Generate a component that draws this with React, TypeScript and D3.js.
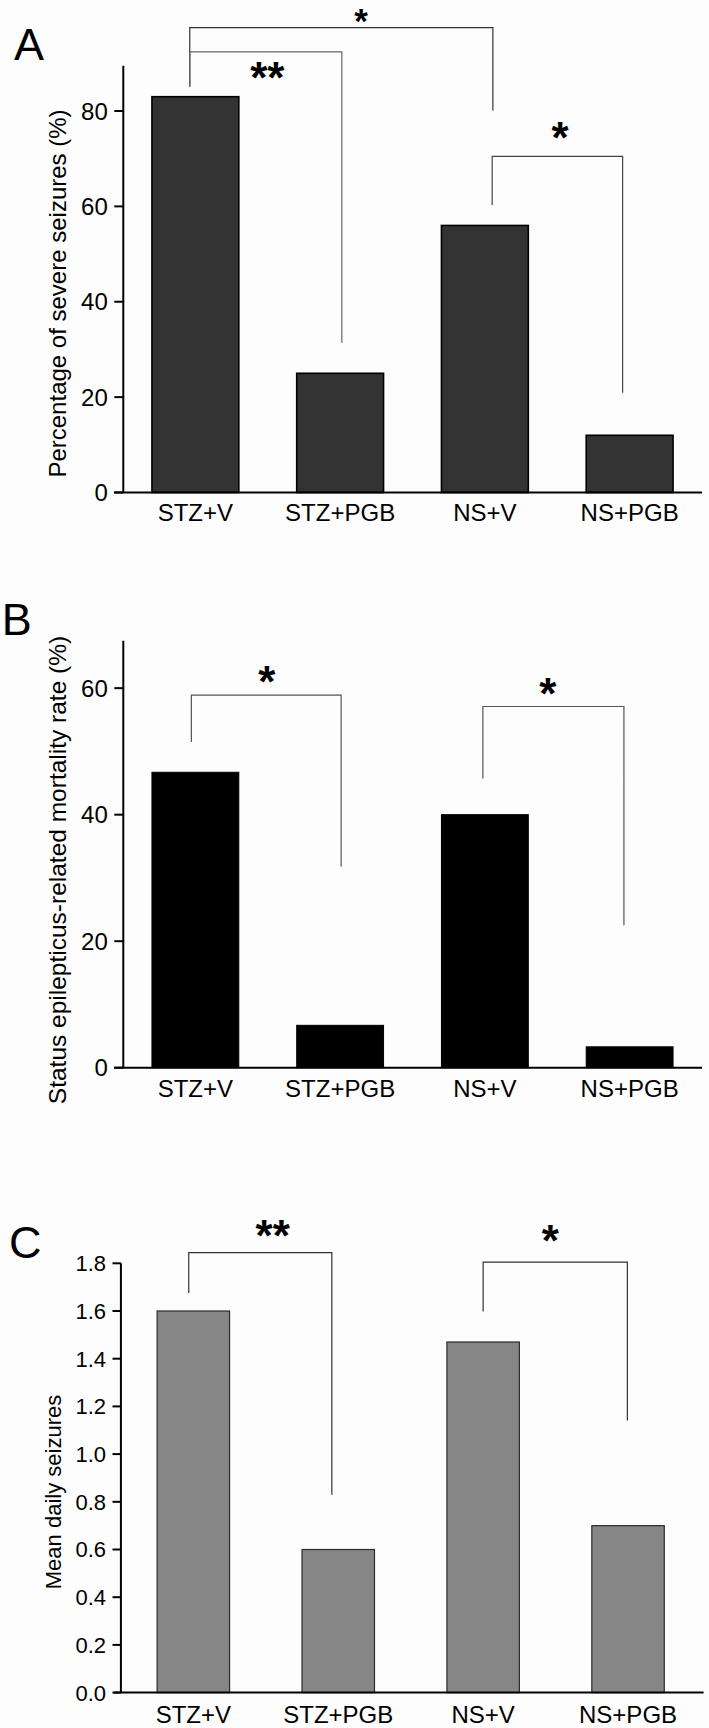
import React from "react";
import * as d3 from "d3";

// ---------- data ----------
const categories = ["STZ+V", "STZ+PGB", "NS+V", "NS+PGB"];
const severePct = [83, 25, 56, 12];
const mortalityPct = [46.7, 6.7, 40, 3.3];
const meanDaily = [1.6, 0.6, 1.47, 0.7];

const ticksA = [0, 20, 40, 60, 80];
const ticksB = [0, 20, 40, 60];
const ticksC = [0, 0.2, 0.4, 0.6, 0.8, 1.0, 1.2, 1.4, 1.6, 1.8];

const yMaxA = 89.5;
const yMaxB = 67.5;
const yMaxC = 1.8;

// significance brackets (values in data units)
const bracketsA = [
  { from: "STZ+V", to: "NS+V", level: 97.5, fromEnd: 85.1, toEnd: 80.1, mark: "*", markY: 99.6 },
  { from: "STZ+V", to: "STZ+PGB", level: 92.4, fromEnd: 85.1, toEnd: 31.4, mark: "**", markY: 88 },
  { from: "NS+V", to: "NS+PGB", level: 70.5, fromEnd: 60.3, toEnd: 20.9, mark: "*", markY: 75.4 },
];
const bracketsB = [
  { from: "STZ+V", to: "STZ+PGB", level: 58.9, fromEnd: 51.5, toEnd: 31.8, mark: "*", markY: 61.7 },
  { from: "NS+V", to: "NS+PGB", level: 57.1, fromEnd: 45.7, toEnd: 22.5, mark: "*", markY: 59.9 },
];
const bracketsC = [
  { from: "STZ+V", to: "STZ+PGB", level: 1.845, fromEnd: 1.675, toEnd: 0.83, mark: "**", markY: 1.935 },
  { from: "NS+V", to: "NS+PGB", level: 1.805, fromEnd: 1.598, toEnd: 1.141, mark: "*", markY: 1.912 },
];

// ---------- layout (positions / styles) ----------
const FONT = "'Liberation Sans', Arial, Helvetica, sans-serif";

const layoutA = {
  letter: "A", letterX: 14, letterY: 60,
  x0: 123, x1: 702, axisX: 123.3, xAxisStart: 114, xAxisEnd: 702,
  base: 492.5, top: 65.7, padInner: 0.4, padOuter: 0.2,
  tickFont: 24, tickLen: 9, xLabelDy: 28.2,
  yLabel: "Percentage of severe seizures (%)", yLabelX: 65.7, yLabelY: 293.5, yLabelFont: 24,
  fill: "#333333", stroke: "#000", strokeW: 1.6,
  bracketDx: [[-5.6, 8], [-5.6, 1.7], [7.3, -7]],
  markFrac: [0.565, 0.51, 0.52],
  markSize: [35, 44, 44],
  bracketColor: ["#333", "#666", "#444"],
  fmt: (d: number) => String(d),
};
const layoutB = {
  letter: "B", letterX: 1.7, letterY: 635,
  x0: 123, x1: 702, axisX: 123.3, xAxisStart: 114, xAxisEnd: 702,
  base: 1067.7, top: 640.7, padInner: 0.4, padOuter: 0.2,
  tickFont: 24, tickLen: 9, xLabelDy: 29,
  yLabel: "Status epilepticus-related mortality rate (%)", yLabelX: 65.7, yLabelY: 870, yLabelFont: 24.5,
  fill: "#000000", stroke: "#000", strokeW: 1,
  bracketDx: [[-4, 1], [-2, -5.7]],
  markFrac: [0.504, 0.46],
  markSize: [44, 44],
  bracketColor: ["#555", "#555"],
  fmt: (d: number) => String(d),
};
const layoutC = {
  letter: "C", letterX: 9, letterY: 1257.5,
  x0: 120.9, x1: 700.5, axisX: 120.9, xAxisStart: 113.6, xAxisEnd: 703.6,
  base: 1692.6, top: 1263.3, padInner: 0.5, padOuter: 0.25,
  tickFont: 22, tickLen: 8.4, xLabelDy: 30,
  yLabel: "Mean daily seizures", yLabelX: 61, yLabelY: 1492, yLabelFont: 22,
  fill: "#868686", stroke: "#2a2a2a", strokeW: 1.2,
  bracketDx: [[-4.6, -6.4], [0, -0.7]],
  markFrac: [0.587, 0.465],
  markSize: [44, 44],
  bracketColor: ["#333", "#333"],
  fmt: d3.format(".1f"),
};

type Bracket = { from: string; to: string; level: number; fromEnd: number; toEnd: number; mark: string; markY: number };

function Panel({ L, values, ticks, yMax, brackets }: { L: any; values: number[]; ticks: number[]; yMax: number; brackets: Bracket[] }) {
  const x = d3.scaleBand<string>().domain(categories).range([L.x0, L.x1]).paddingInner(L.padInner).paddingOuter(L.padOuter);
  const y = d3.scaleLinear().domain([0, yMax]).range([L.base, L.top]);
  const cx = (c: string) => (x(c) as number) + x.bandwidth() / 2;

  return (
    <g>
      <text x={L.letterX} y={L.letterY} fontSize={45} fontFamily={FONT} fill="#000">{L.letter}</text>
      {/* bars */}
      {categories.map((c, i) => (
        <rect key={c} x={x(c)} y={y(values[i])} width={x.bandwidth()} height={y(0) - y(values[i])}
          fill={L.fill} stroke={L.stroke} strokeWidth={L.strokeW} />
      ))}
      {/* y axis */}
      <line x1={L.axisX} x2={L.axisX} y1={y(0)} y2={y(yMax)} stroke="#000" strokeWidth={2} />
      {ticks.map((t) => (
        <g key={t}>
          <line x1={L.axisX - L.tickLen} x2={L.axisX} y1={y(t)} y2={y(t)} stroke="#000" strokeWidth={2} />
          <text x={L.axisX - L.tickLen - 6.5} y={y(t)} dy="0.36em" textAnchor="end" fontSize={L.tickFont} fontFamily={FONT} fill="#000">
            {L.fmt(t)}
          </text>
        </g>
      ))}
      {/* x axis */}
      <line x1={L.xAxisStart} x2={L.xAxisEnd} y1={y(0)} y2={y(0)} stroke="#000" strokeWidth={2} />
      {categories.map((c) => (
        <text key={c} x={cx(c)} y={y(0) + L.xLabelDy} textAnchor="middle" fontSize={24} fontFamily={FONT} fill="#000">{c}</text>
      ))}
      {/* y label */}
      <text transform={`translate(${L.yLabelX},${L.yLabelY}) rotate(-90)`} textAnchor="middle" fontSize={L.yLabelFont} fontFamily={FONT} fill="#000">
        {L.yLabel}
      </text>
      {/* brackets */}
      {brackets.map((b, i) => {
        const xa = cx(b.from) + L.bracketDx[i][0];
        const xb = cx(b.to) + L.bracketDx[i][1];
        const yl = y(b.level);
        const path = d3.path();
        path.moveTo(xa, y(b.fromEnd));
        path.lineTo(xa, yl);
        path.lineTo(xb, yl);
        path.lineTo(xb, y(b.toEnd));
        const mx = xa + (xb - xa) * L.markFrac[i];
        const fs = L.markSize[i];
        return (
          <g key={i}>
            <path d={path.toString()} fill="none" stroke={L.bracketColor[i]} strokeWidth={1.2} />
            <text x={mx} y={y(b.markY) + fs * 0.45} textAnchor="middle" fontSize={fs} fontWeight="bold" fontFamily={FONT} fill="#000">
              {b.mark}
            </text>
          </g>
        );
      })}
    </g>
  );
}

export default function App() {
  return (
    <svg width={709} height={1728} style={{ position: "absolute", left: 0, top: 0, background: "#fdfdfd" }}>
      <rect x={0} y={0} width={709} height={1728} fill="#fdfdfd" />
      <Panel L={layoutA} values={severePct} ticks={ticksA} yMax={yMaxA} brackets={bracketsA} />
      <Panel L={layoutB} values={mortalityPct} ticks={ticksB} yMax={yMaxB} brackets={bracketsB} />
      <Panel L={layoutC} values={meanDaily} ticks={ticksC} yMax={yMaxC} brackets={bracketsC} />
    </svg>
  );
}
